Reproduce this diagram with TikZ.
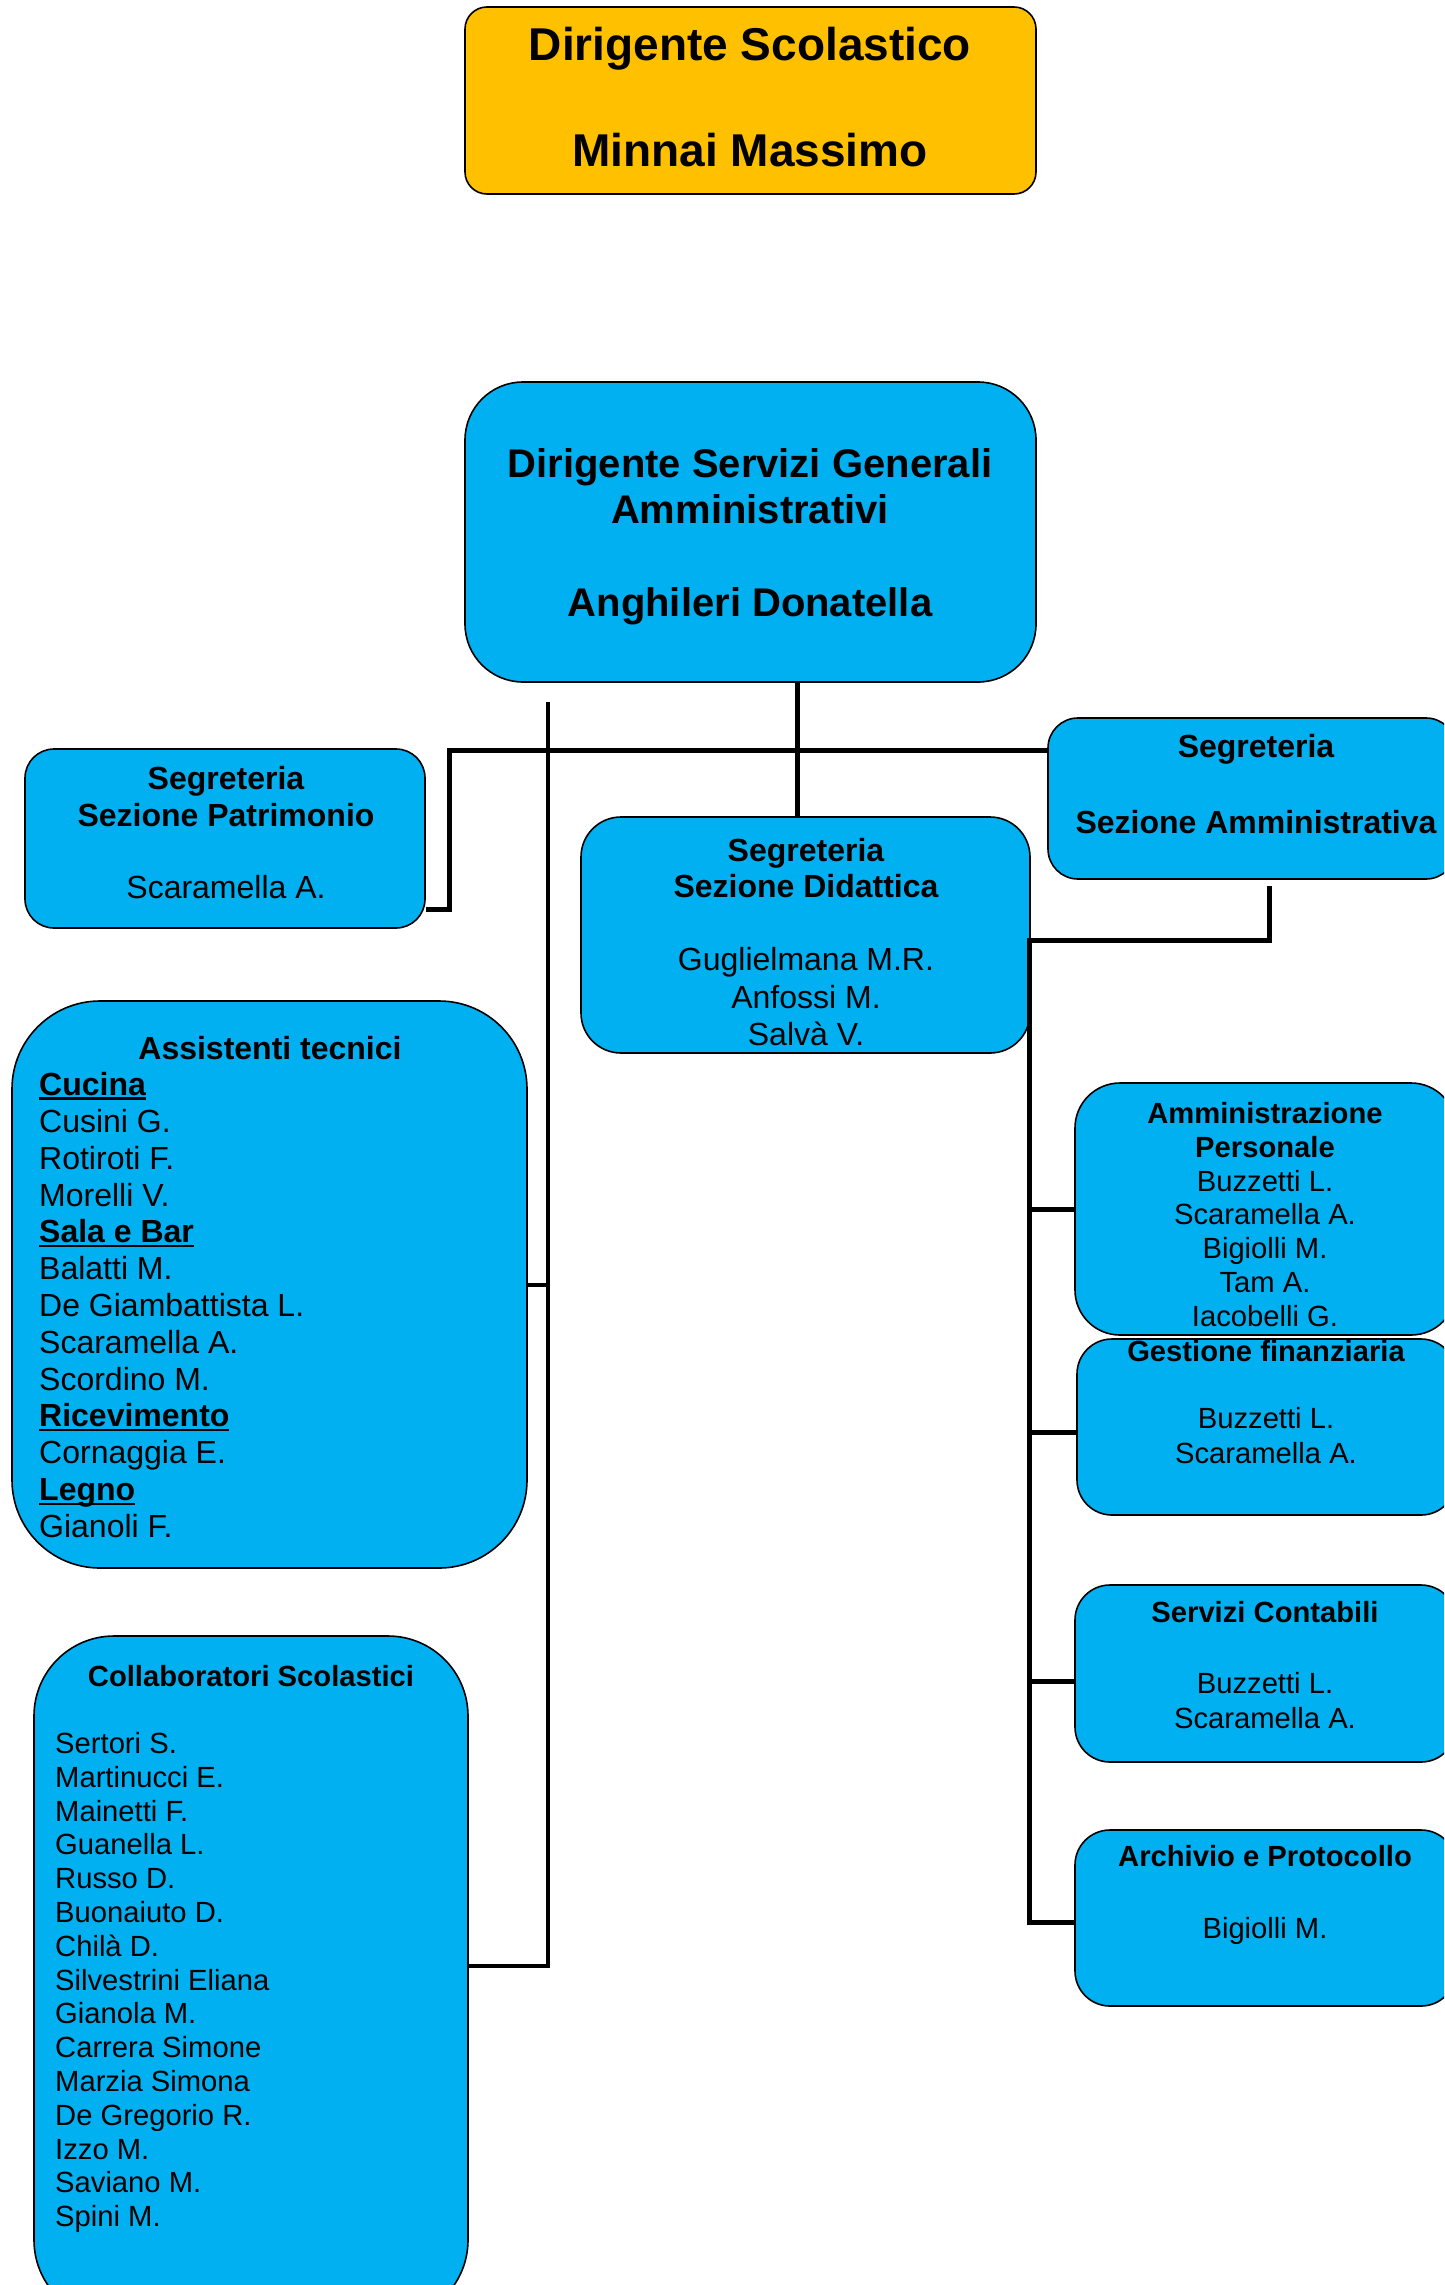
\documentclass[tikz,border=0pt]{standalone}
\usepackage{fontspec}
\setmainfont{Liberation Sans}
\definecolor{sblue}{HTML}{00B0F0}
\definecolor{sorange}{HTML}{FFC000}
\newcommand\ulbar[1]{\setbox0\hbox{#1}\rlap{\raisebox{-4.5pt}{\rule{\wd0}{2.6pt}}}\box0}
\newcommand\hd[1]{\ulbar{\bfseries #1}}
\begin{document}
\begin{tikzpicture}[x=1pt,y=-1pt,
  bx/.style={draw=black,line width=1.6pt,fill=sblue,inner sep=0pt},
  conn/.style={line width=5pt},
  thinconn/.style={line width=4.6pt},
  fa/.style={inner sep=0pt,font=\fontsize{46}{53}\selectfont\bfseries},
  fb/.style={inner sep=0pt,font=\fontsize{40}{46}\selectfont\bfseries},
  fcb/.style={inner sep=0pt,font=\fontsize{32}{37}\selectfont\bfseries},
  fc/.style={inner sep=0pt,font=\fontsize{32}{37}\selectfont},
  fdb/.style={inner sep=0pt,font=\fontsize{29.2}{34}\selectfont\bfseries},
  fd/.style={inner sep=0pt,font=\fontsize{29.2}{34}\selectfont}]
\useasboundingbox (0,0) rectangle (1444,2285);
\clip (0,0) rectangle (1444,2285);

% boxes
\node[bx,fill=sorange,rounded corners=22pt,minimum width=571pt,minimum height=187pt] (top) at (750.5,100.5) {};
\node[bx,rounded corners=58pt,minimum width=571pt,minimum height=300pt] (dsga) at (750.5,532) {};
\node[bx,rounded corners=29pt,minimum width=400pt,minimum height=179pt] (pat) at (225,838.5) {};
\node[bx,rounded corners=40pt,minimum width=449pt,minimum height=236pt] (did) at (805.5,935) {};
\node[bx,rounded corners=30pt,minimum width=408pt,minimum height=161pt] (amm) at (1252,798.5) {};
\node[bx,rounded corners=88pt,minimum width=515pt,minimum height=567pt] (ast) at (269.5,1284.5) {};
\node[bx,rounded corners=80pt,minimum width=434pt,minimum height=684pt] (coll) at (251,1978) {};
\node[bx,rounded corners=45pt,minimum width=381pt,minimum height=252pt] (ap) at (1265.5,1209) {};
\node[bx,rounded corners=35pt,minimum width=379pt,minimum height=176pt] (gf) at (1266.5,1427) {};
\node[bx,rounded corners=35pt,minimum width=381pt,minimum height=177pt] (sc) at (1265.5,1673.5) {};
\node[bx,rounded corners=35pt,minimum width=381pt,minimum height=176pt] (arc) at (1265.5,1918) {};

% connector coordinates
\coordinate (kx) at (797,0);
\coordinate (jA) at (449,750);
\coordinate (jB) at (449,909);
\coordinate (vTop) at (548,702);
\coordinate (vMid) at (548,1285);
\coordinate (vBot) at (548,1966);
\coordinate (rS) at (1269,886);
\coordinate (rA) at (1269,940);
\coordinate (rB) at (1029,940);
\coordinate (r1) at (1029,1209);
\coordinate (r2) at (1029,1432);
\coordinate (r3) at (1029,1681);
\coordinate (r4) at (1029,1922);

\draw[conn] (dsga.south -| kx) -- (did.north -| kx);
\draw[conn] (pat.east |- jB) -- (jB) -- (jA) -- (amm.west |- jA);
\draw[thinconn] (vTop) -- (vBot) -- (coll.east |- vBot);
\draw[thinconn] (vMid) -- (ast.east |- vMid);
\draw[conn] (rS) -- (rA) -- (rB) -- (r4) -- (arc.west |- r4);
\draw[conn] (r1) -- (ap.west |- r1);
\draw[conn] (r2) -- (gf.west |- r2);
\draw[conn] (r3) -- (sc.west |- r3);

% texts
\node[fa,anchor=base] (t1) at (750,60.5) {Dirigente Scolastico};
\node[fa,anchor=base] (t2) at (750,166.5) {Minnai Massimo};

\node[fb,anchor=base] (d1) at (750,477) {Dirigente Servizi Generali};
\node[fb,anchor=base] (d2) at (750,523) {Amministrativi};
\node[fb,anchor=base] (d3) at (750,616) {Anghileri Donatella};

\node[fcb,anchor=base] (p1) at (226,789) {Segreteria};
\node[fcb,anchor=base] (p2) at (226,826) {Sezione Patrimonio};
\node[fc,anchor=base] (p3) at (226,898) {Scaramella A.};

\node[fcb,anchor=base] (s1) at (806,861) {Segreteria};
\node[fcb,anchor=base] (s2) at (806,897) {Sezione Didattica};
\node[fc,anchor=base] (s3) at (806,970) {Guglielmana M.R.};
\node[fc,anchor=base] (s4) at (806,1008) {Anfossi M.};
\node[fc,anchor=base] (s5) at (806,1045) {Salvà V.};

\node[fcb,anchor=base] (m1) at (1256,757) {Segreteria};
\node[fcb,anchor=base] (m2) at (1256,833) {Sezione Amministrativa};

\node[fcb,anchor=base] (at0) at (270,1059.5) {Assistenti tecnici};
\foreach \t [count=\i from 0] in {{\hd{Cucina}},Cusini G.,Rotiroti F.,Morelli V.,{\hd{Sala e Bar}},Balatti M.,De Giambattista L.,Scaramella A.,Scordino M.,{\hd{Ricevimento}},Cornaggia E.,{\hd{Legno}},Gianoli F.}
  \node[fc,anchor=base west] (at\i x) at (39,{1095.5+36.83*\i}) {\t};

\node[fdb,anchor=base] (cs0) at (251,1686) {Collaboratori Scolastici};
\foreach \t [count=\i from 0] in {Sertori S.,Martinucci E.,Mainetti F.,Guanella L.,Russo D.,Buonaiuto D.,Chilà D.,Silvestrini Eliana,Gianola M.,Carrera Simone,Marzia Simona,De Gregorio R.,Izzo M.,Saviano M.,Spini M.}
  \node[fd,anchor=base west] (cs\i x) at (55,{1753.4+33.8*\i}) {\t};

\foreach \t [count=\i from 0] in {{\bfseries Amministrazione},{\bfseries Personale},Buzzetti L.,Scaramella A.,Bigiolli M.,Tam A.,Iacobelli G.}
  \node[fd,anchor=base] (ap\i x) at (1265,{1123.4+33.83*\i}) {\t};

\node[fdb,anchor=base] (g1) at (1266,1361) {Gestione finanziaria};
\node[fd,anchor=base] (g2) at (1266,1428) {Buzzetti L.};
\node[fd,anchor=base] (g3) at (1266,1463) {Scaramella A.};

\node[fdb,anchor=base] (c1) at (1265,1622) {Servizi Contabili};
\node[fd,anchor=base] (c2) at (1265,1693) {Buzzetti L.};
\node[fd,anchor=base] (c3) at (1265,1728) {Scaramella A.};

\node[fdb,anchor=base] (a1) at (1265,1866) {Archivio e Protocollo};
\node[fd,anchor=base] (a2) at (1265,1938) {Bigiolli M.};
\end{tikzpicture}
\end{document}
